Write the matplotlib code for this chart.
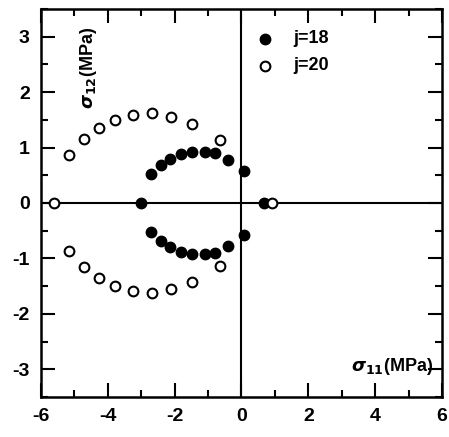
import matplotlib
matplotlib.use("Agg")
from matplotlib import pyplot as plt
from matplotlib.ticker import MultipleLocator

plt.rcParams['font.family'] = ['Liberation Sans', 'DejaVu Sans']
plt.rcParams['font.weight'] = 'bold'
plt.rcParams['axes.unicode_minus'] = False

# j=18 (filled), upper then lower half
s11_j18 = [-3.0, -2.70, -2.42, -2.13, -1.80, -1.47, -1.10, -0.78, -0.40, 0.08, 0.68,
           -2.70, -2.42, -2.13, -1.80, -1.47, -1.10, -0.78, -0.40, 0.08]
s12_j18 = [0.0, 0.52, 0.68, 0.80, 0.88, 0.92, 0.92, 0.90, 0.78, 0.58, 0.0,
           -0.52, -0.68, -0.80, -0.88, -0.92, -0.92, -0.90, -0.78, -0.58]

# j=20 (open)
s11_j20 = [-5.60, -5.16, -4.72, -4.26, -3.79, -3.25, -2.69, -2.11, -1.48, -0.65, 0.90,
           -5.16, -4.72, -4.26, -3.79, -3.25, -2.69, -2.11, -1.48, -0.65]
s12_j20 = [0.0, 0.86, 1.16, 1.35, 1.50, 1.59, 1.63, 1.56, 1.42, 1.14, 0.0,
           -0.86, -1.16, -1.35, -1.50, -1.59, -1.63, -1.56, -1.42, -1.14]

fig = plt.figure(figsize=(4.49, 4.37), dpi=100)
ax = fig.add_axes([0.0913, 0.0915, 0.893, 0.888])

ax.axhline(0, color='black', lw=1.5, zorder=1)
ax.axvline(0, color='black', lw=1.5, zorder=1)

ax.plot(s11_j18, s12_j18, 'o', color='black', markersize=7.5, zorder=3)
ax.plot(s11_j20, s12_j20, 'o', markerfacecolor='white', markeredgecolor='black',
        markeredgewidth=1.5, markersize=7, zorder=3)

# legend drawn as points + text
ax.plot([0.7], [2.96], 'o', color='black', markersize=7.5)
ax.plot([0.7], [2.48], 'o', markerfacecolor='white', markeredgecolor='black',
        markeredgewidth=1.5, markersize=7)
ax.text(1.55, 2.96, "j=18", fontsize=13, fontweight='bold', va='center')
ax.text(1.55, 2.48, "j=20", fontsize=13, fontweight='bold', va='center')

ax.text(-4.59, 2.43, r"$\sigma_{12}$(MPa)", rotation=90, fontsize=13,
        fontweight='bold', ha='center', va='center')
ax.text(5.72, -2.95, r"$\sigma_{11}$(MPa)", fontsize=13, fontweight='bold',
        ha='right', va='center')

ax.set_xlim(-6, 6)
ax.set_ylim(-3.5, 3.5)
ax.xaxis.set_major_locator(MultipleLocator(2))
ax.xaxis.set_minor_locator(MultipleLocator(1))
ax.yaxis.set_major_locator(MultipleLocator(1))
ax.yaxis.set_minor_locator(MultipleLocator(0.5))
ax.tick_params(which='both', direction='in', top=True, right=True, width=1.5)
ax.tick_params(which='major', length=10, labelsize=14, pad=8)
ax.tick_params(which='minor', length=5)
for lab in ax.get_xticklabels() + ax.get_yticklabels():
    lab.set_fontweight('bold')
for sp in ax.spines.values():
    sp.set_linewidth(1.8)

fig.savefig("out.png", dpi=100)
